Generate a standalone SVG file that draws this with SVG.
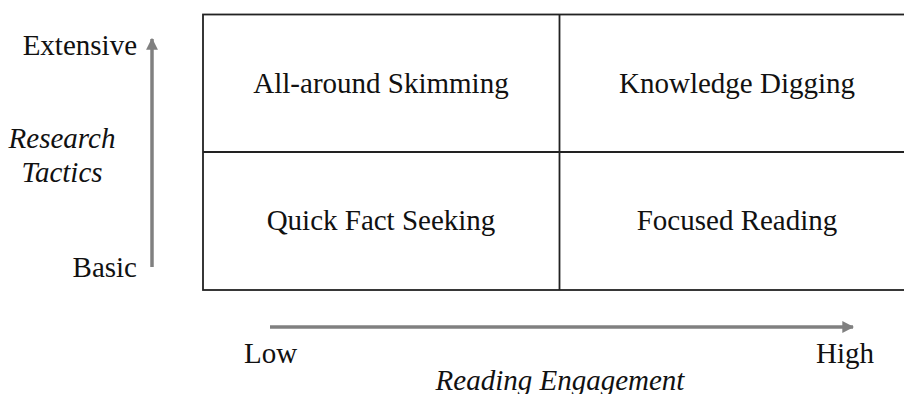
<svg xmlns="http://www.w3.org/2000/svg" width="904" height="394" viewBox="0 0 904 394">
<style>
text{font-family:"Liberation Serif","Times New Roman",serif;font-size:29px;fill:#111}
.it{font-style:italic}
.grid{fill:none;stroke:#222;stroke-width:1.8}
.axis{stroke:#808080;stroke-width:3.5;fill:none}
</style>
<defs>
<marker id="ah" viewBox="0 0 10 10" refX="9" refY="5" markerWidth="3.4" markerHeight="3.4" orient="auto" markerUnits="strokeWidth">
<path d="M0,0 L10,5 L0,10 Z" fill="#808080"/>
</marker>
</defs>
<rect x="0" y="0" width="904" height="394" fill="#fff"/>
<g id="grid">
<rect class="grid" x="203" y="14.5" width="720" height="275.5"/>
<line class="grid" x1="559.5" y1="14.5" x2="559.5" y2="290"/>
<line class="grid" x1="203" y1="152" x2="923" y2="152"/>
</g>
<g id="connectors">
<line class="axis" x1="152" y1="267" x2="152" y2="39" marker-end="url(#ah)"/>
<line class="axis" x1="270" y1="327" x2="853" y2="327" marker-end="url(#ah)"/>
</g>
<g id="cell-all-around"><text x="381" y="93" text-anchor="middle">All-around Skimming</text></g>
<g id="cell-knowledge"><text x="737" y="93" text-anchor="middle">Knowledge Digging</text></g>
<g id="cell-quick"><text x="381" y="230" text-anchor="middle">Quick Fact Seeking</text></g>
<g id="cell-focused"><text x="737" y="230" text-anchor="middle">Focused Reading</text></g>
<g id="y-axis-labels">
<text x="137" y="55" text-anchor="end">Extensive</text>
<text class="it" x="62" y="148" text-anchor="middle">Research</text>
<text class="it" x="62" y="182" text-anchor="middle">Tactics</text>
<text x="137" y="277" text-anchor="end">Basic</text>
</g>
<g id="x-axis-labels">
<text x="244" y="363">Low</text>
<text x="874" y="363" text-anchor="end">High</text>
<text class="it" x="560" y="390" text-anchor="middle">Reading Engagement</text>
</g>
</svg>
